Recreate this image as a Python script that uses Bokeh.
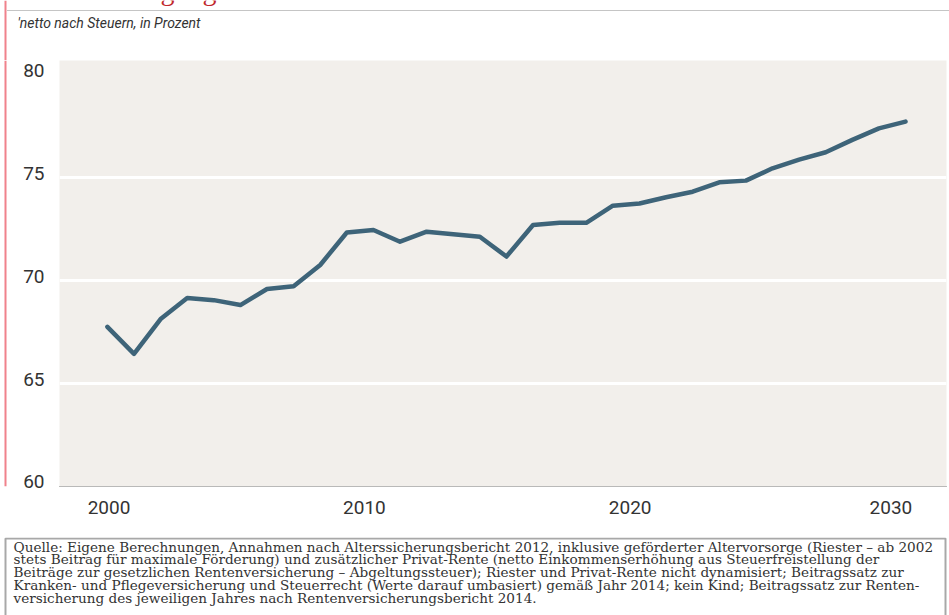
from bokeh.plotting import figure
from bokeh.layouts import column, row
from bokeh.models import Range1d, FixedTicker
from bokeh.embed import file_html
from bokeh.resources import INLINE
from bokeh.core.properties import value

# ---------------- data ----------------
years = list(range(2000, 2031))
niveau = [67.76, 66.45, 68.14, 69.16, 69.06, 68.82, 69.60, 69.73, 70.77, 72.35,
          72.47, 71.90, 72.39, 72.26, 72.14, 71.18, 72.71, 72.82, 72.82, 73.65,
          73.76, 74.06, 74.33, 74.79, 74.87, 75.47, 75.89, 76.25, 76.85, 77.41,
          77.74]
y_ticks = [60, 65, 70, 75, 80]
grid_ticks = [65, 70, 75]
x_tick_labels = ["2000", "2010", "2020", "2030"]

title_text = "Altersversorgung eines Durchschnittsverdieners: Gesamtniveau mit Riester- und Privat-Rente"
subtitle_text = "'netto nach Steuern, in Prozent"
source_lines = [
    "Quelle: Eigene Berechnungen, Annahmen nach Alterssicherungsbericht 2012, inklusive geförderter Altervorsorge (Riester \u2013 ab 2002",
    "stets Beitrag für maximale Förderung) und zusätzlicher Privat-Rente (netto Einkommenserhöhung aus Steuerfreistellung der",
    "Beiträge zur gesetzlichen Rentenversicherung \u2013 Abgeltungssteuer); Riester und Privat-Rente nicht dynamisiert; Beitragssatz zur",
    "Kranken- und Pflegeversicherung und Steuerrecht (Werte darauf umbasiert) gemäß Jahr 2014; kein Kind; Beitragssatz zur Renten-",
    "versicherung des jeweiligen Jahres nach Rentenversicherungsbericht 2014.",
]

# ---------------- layout tuning ----------------
W = 949
HEAD_H = 60
CHART_H = 477
FOOT_H = 615 - HEAD_H - CHART_H
STRIP_W = 20
RED = "#f0828c"
SANS = "Roboto"
# label placement tweaks (visual offsets of tick labels)
x_tick_pos = [2000.06, 2009.66, 2019.65, 2029.45]
y_label_shift = 0.22


def flat_fig(w, h):
    f = figure(width=w, height=h, x_range=Range1d(0, w), y_range=Range1d(h, 0),
               x_axis_type=None, y_axis_type=None, toolbar_location=None,
               output_backend="svg", min_border=0, outline_line_color=None)
    f.background_fill_color = "white"
    f.border_fill_color = "white"
    return f


# ---- header ----
head = flat_fig(W, HEAD_H)
head.segment(x0=[5], y0=[0], x1=[5], y1=[HEAD_H], line_color=RED, line_width=2)
head.text(x=[22], y=[-10], text=[title_text], text_font=value("Liberation Serif"),
          text_font_size="28px", text_color="#c0272d", text_baseline="alphabetic")
head.segment(x0=[7], y0=[10], x1=[W], y1=[10], line_color="#8a8a8a",
             line_width=1, line_dash="1 1")
head.text(x=[17], y=[22], text=[subtitle_text], text_font=value(SANS),
          text_font_style="italic", text_font_size="14px", text_color="#333333",
          text_baseline="middle")

# ---- left red strip ----
strip = flat_fig(STRIP_W, CHART_H)
strip.segment(x0=[5], y0=[0], x1=[5], y1=[CHART_H], line_color=RED, line_width=2)

# ---- chart ----
p = figure(width=W - STRIP_W, height=CHART_H,
           x_range=Range1d(1998.2, 2031.54), y_range=Range1d(60, 80.71),
           toolbar_location=None, output_backend="svg",
           min_border_left=57 - STRIP_W, min_border_right=3,
           min_border_top=0, min_border_bottom=51)
p.background_fill_color = "#f2efeb"
p.border_fill_color = "white"
p.outline_line_color = None

p.line(years, niveau, line_color="#3e6479", line_width=4.5,
       line_join="round", line_cap="round")

p.xgrid.visible = False
p.ygrid.ticker = FixedTicker(ticks=grid_ticks)
p.ygrid.grid_line_color = "white"
p.ygrid.grid_line_width = 3

ytk = [t + y_label_shift for t in y_ticks]
p.yaxis.ticker = FixedTicker(ticks=ytk)
p.yaxis.major_label_overrides = {t: str(v) for t, v in zip(ytk, y_ticks)}
p.yaxis.axis_line_color = None
p.yaxis.major_tick_line_color = None
p.yaxis.minor_tick_line_color = None
p.yaxis.major_label_standoff = 9

p.xaxis.ticker = FixedTicker(ticks=x_tick_pos)
p.xaxis.major_label_overrides = {t: s for t, s in zip(x_tick_pos, x_tick_labels)}
p.xaxis.axis_line_color = "#7a7a7a"
p.xaxis.axis_line_dash = "1 1"
p.xaxis.axis_line_width = 1
p.xaxis.major_tick_line_color = None
p.xaxis.minor_tick_line_color = None
p.xaxis.major_label_standoff = 8

for ax in (p.xaxis, p.yaxis):
    ax.major_label_text_font = SANS
    ax.major_label_text_font_size = "19px"
    ax.major_label_text_color = "#333333"

# ---- footer ----
foot = flat_fig(W, FOOT_H)
foot.multi_line(xs=[[5, 5, 945, 945]], ys=[[FOOT_H + 5, 1, 1, FOOT_H + 5]],
                line_color="#a8a8a8", line_width=2)
base0, lead = 9.0, 12.8
foot.text(x=[13] * len(source_lines),
          y=[base0 + i * lead for i in range(len(source_lines))],
          text=source_lines, text_font=value("DejaVu Serif"),
          text_font_size="13.6px", text_color="#333333", text_baseline="alphabetic")

layout = column(head, row(strip, p), foot)
open("out.html", "w").write(file_html(layout, INLINE))
